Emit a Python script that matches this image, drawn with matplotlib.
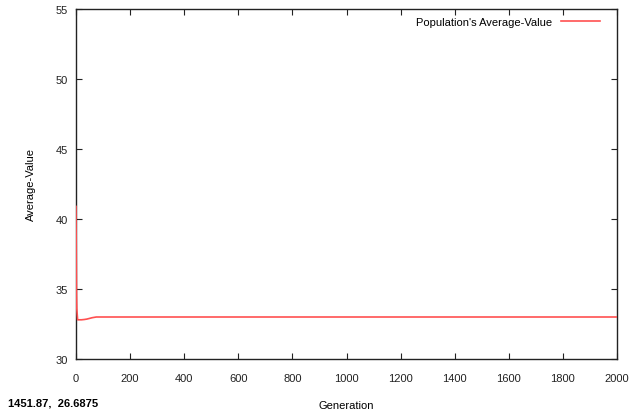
import matplotlib
matplotlib.use("Agg")
import matplotlib.pyplot as plt

# population average value per generation
generations = [0, 1, 2, 3, 6, 20, 30, 40, 50, 60, 75, 2000]
avg_value = [40.9, 37.5, 34.6, 33.6, 32.8, 32.8, 32.82, 32.85, 32.9, 32.95, 33.0, 33.0]

xticks = list(range(0, 2001, 200))
yticks = [30, 35, 40, 45, 50, 55]

plt.rcParams["font.family"] = ["Liberation Sans", "DejaVu Sans"]
plt.rcParams["font.size"] = 8

fig = plt.figure(figsize=(6.31, 4.14), dpi=100)
ax = fig.add_axes([76 / 631, 54 / 414, 541 / 631, 350 / 414])

ax.plot(generations, avg_value, color="#ff5050", lw=1.2, zorder=3,
        label="Population's Average-Value")

ax.set_xlim(0, 2000)
ax.set_ylim(30, 55)
ax.set_xticks(xticks)
ax.set_yticks(yticks)
ax.tick_params(direction="in", length=4, width=0.8, top=True, right=True,
               labelsize=8, colors="#222222")
ax.tick_params(axis="x", pad=10)
ax.tick_params(axis="y", pad=6)
for s in ax.spines.values():
    s.set_linewidth(1)
    s.set_color("#222222")
    s.set_zorder(2)

ax.set_xlabel("Generation", fontsize=8, labelpad=12)
ax.set_ylabel("Average-Value", fontsize=8, labelpad=14)

ax.legend(loc="upper right", bbox_to_anchor=(1 - 9 / 541, 1), frameon=False,
          markerfirst=False, fontsize=8, handlelength=3.5, borderaxespad=0.3)

fig.text(8 / 631, 1 - 404 / 414, "1451.87,  26.6875", fontsize=8,
         fontweight="bold", va="center", ha="left")

fig.savefig("out.png", dpi=100)
